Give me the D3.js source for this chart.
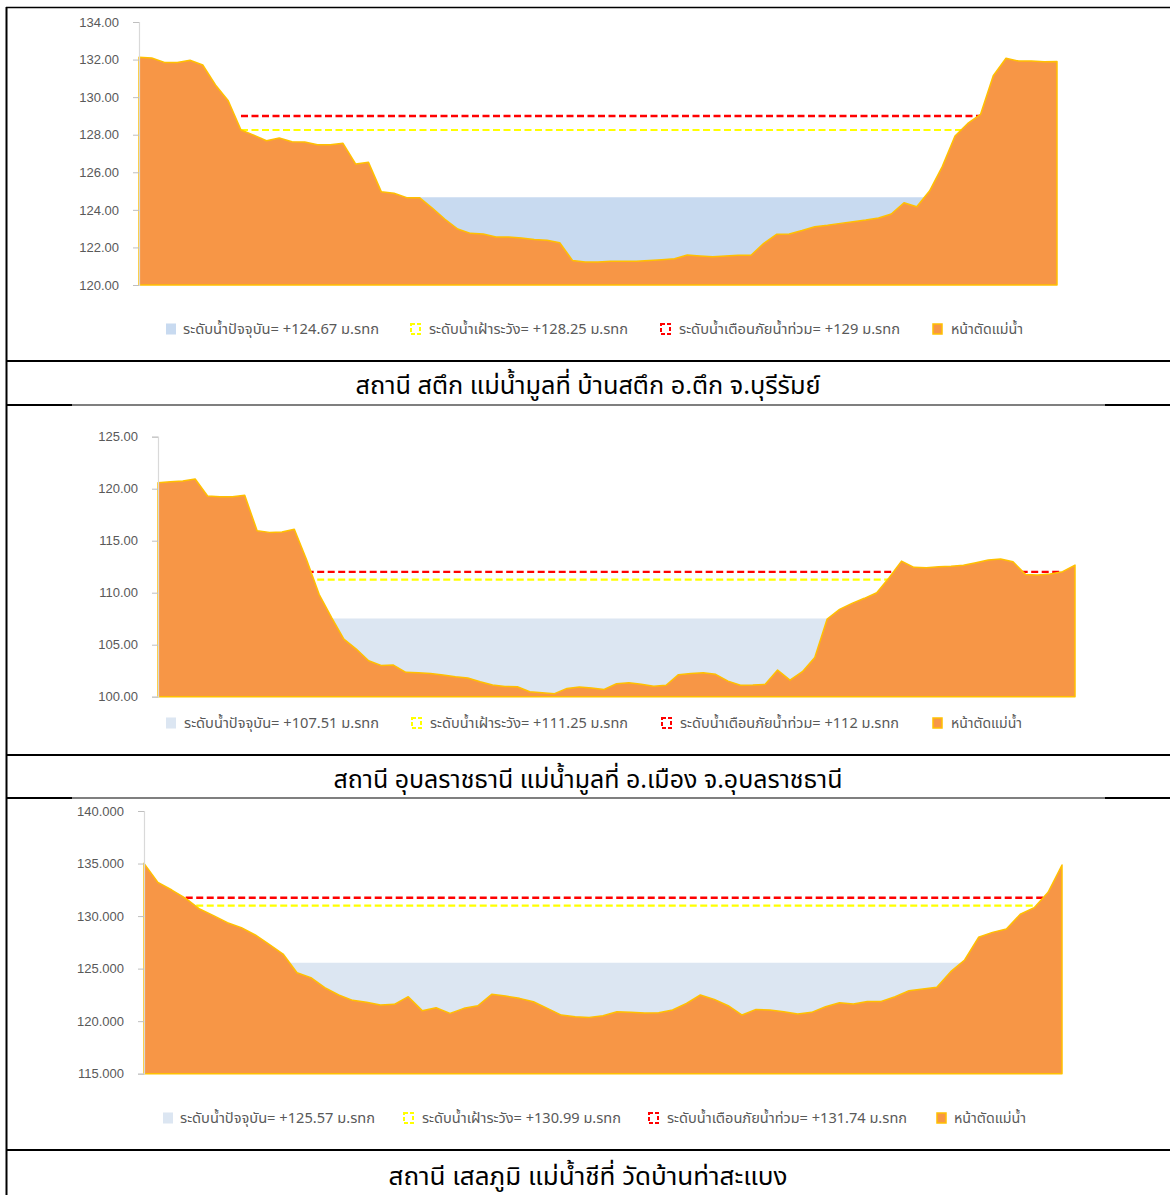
<!DOCTYPE html>
<html><head><meta charset="utf-8">
<script src="https://cdn.jsdelivr.net/npm/d3@7"></script>
<style>
body{margin:0;background:#fff;}
svg{display:block;}
.thai{font-family:"Noto Sans Thai","Noto Sans Thai UI","Loma","Garuda","Norasi","Tlwg Typo","Sarabun","TH Sarabun New",Tahoma,"DejaVu Sans",sans-serif;}
</style></head>
<body>
<svg id="c" width="1170" height="1195"></svg>
<script>
// ---------- DATA ----------
const captions = [
  "สถานี สตึก แม่น้ำมูลที่ บ้านสตึก อ.ตึก จ.บุรีรัมย์",
  "สถานี อุบลราชธานี แม่น้ำมูลที่ อ.เมือง จ.อุบลราชธานี",
  "สถานี เสลภูมิ แม่น้ำชีที่ วัดบ้านท่าสะแบง"
];
const legendNames = ["ระดับน้ำปัจจุบัน", "ระดับน้ำเฝ้าระวัง", "ระดับน้ำเตือนภัยน้ำท่วม", "หน้าตัดแม่น้ำ"];
const unitText = "ม.รทก";

// Station 1 (Satuek)
const s1Ground = [132.12,132.08,131.85,131.85,131.96,131.71,130.65,129.81,128.25,127.98,
  127.68,127.82,127.63,127.61,127.47,127.47,127.54,126.44,126.53,124.97,
  124.88,124.65,124.65,124.10,123.50,122.98,122.75,122.72,122.56,122.56,
  122.50,122.42,122.38,122.25,121.31,121.22,121.22,121.27,121.26,121.26,
  121.30,121.35,121.40,121.60,121.55,121.50,121.55,121.58,121.58,122.22,
  122.70,122.72,122.90,123.10,123.18,123.28,123.37,123.46,123.57,123.78,
  124.38,124.17,125.00,126.30,127.93,128.60,129.08,131.14,132.07,131.92,
  131.92,131.89,131.90];
const s1Levels = {water:124.67, watch:128.25, warn:129};
const s1LineRange = [8, 66];
const s1Ticks = [120,122,124,126,128,130,132,134];

// Station 2 (Ubon Ratchathani)
const s2Ground = [120.58,120.67,120.74,120.93,119.30,119.23,119.23,119.36,115.96,115.80,
  115.83,116.10,113.14,109.84,107.63,105.54,104.58,103.46,103.01,103.04,
  102.34,102.31,102.24,102.08,101.92,101.79,101.44,101.12,100.99,100.96,
  100.48,100.38,100.29,100.80,100.93,100.83,100.70,101.25,101.35,101.19,
  101.00,101.10,102.12,102.24,102.31,102.15,101.50,101.10,101.12,101.19,
  102.56,101.60,102.40,103.78,107.47,108.40,108.97,109.46,110.00,111.44,
  113.04,112.44,112.40,112.50,112.55,112.63,112.88,113.14,113.24,112.98,
  111.76,111.70,111.80,112.02,112.66];
const s2Levels = {water:107.51, watch:111.25, warn:112};
const s2LineRange = [12, 73];
const s2Ticks = [100,105,110,115,120,125];

// Station 3 (Selaphum)
const s3Ground = [135.02,133.21,132.48,131.69,130.67,130.04,129.37,128.90,128.20,127.31,
  126.39,124.61,124.14,123.19,122.49,121.98,121.79,121.54,121.60,122.33,
  121.00,121.28,120.74,121.22,121.47,122.55,122.39,122.17,121.85,121.22,
  120.58,120.43,120.36,120.52,120.90,120.84,120.77,120.81,121.06,121.69,
  122.49,122.07,121.47,120.58,121.12,121.06,120.90,120.68,120.84,121.38,
  121.76,121.63,121.88,121.88,122.33,122.90,123.06,123.22,124.71,125.82,
  127.98,128.45,128.77,130.17,130.80,132.26,134.86];
const s3Levels = {water:125.57, watch:130.99, warn:131.74};
const s3LineRange = [3, 65];
const s3Ticks = [115,120,125,130,135,140];

// ---------- LAYOUT / STYLE ----------
const panels = [
  {ground:s1Ground, lv:s1Levels, range:s1LineRange, ticks:s1Ticks, fmt:".2f",
   x0:139, x1:1057, yTop:22, yBot:285, water:"#C8DAF0",
   legY:329, legSq:[166,410,660,932], legTx:[183,429,679,951], legW:[196,199,221,72], capY:385, capW:465},
  {ground:s2Ground, lv:s2Levels, range:s2LineRange, ticks:s2Ticks, fmt:".2f",
   x0:158, x1:1075, yTop:436.7, yBot:696.7, water:"#DCE6F2",
   legY:723, legSq:[166,411,661,932], legTx:[184,430,680,951], legW:[195,198,219,71], capY:779, capW:509},
  {ground:s3Ground, lv:s3Levels, range:s3LineRange, ticks:s3Ticks, fmt:".3f",
   x0:144, x1:1062, yTop:811, yBot:1073.7, water:"#DCE6F2",
   legY:1118, legSq:[163,403,648,936], legTx:[180,422,667,954], legW:[195,199,240,72], capY:1176, capW:399}
];

const svg = d3.select("#c");

// table lines
const tbl = svg.append("g").attr("stroke","#000");
tbl.append("line").attr("x1",6).attr("x2",1170).attr("y1",7.5).attr("y2",7.5).attr("stroke-width",1.5);
tbl.append("line").attr("x1",6.5).attr("x2",6.5).attr("y1",7).attr("y2",1195).attr("stroke-width",2);
[361,755,1150].forEach(y=>tbl.append("line").attr("x1",6).attr("x2",1170).attr("y1",y).attr("y2",y).attr("stroke-width",2.2));
[405,798].forEach(y=>{
  tbl.append("line").attr("x1",6).attr("x2",1170).attr("y1",y).attr("y2",y).attr("stroke-width",1.2);
  tbl.append("line").attr("x1",6).attr("x2",72).attr("y1",y).attr("y2",y).attr("stroke-width",2);
  tbl.append("line").attr("x1",1105).attr("x2",1170).attr("y1",y).attr("y2",y).attr("stroke-width",2);
});

function fmtLevel(v){ return (Math.round(v)===v) ? String(v) : v.toFixed(2); }

panels.forEach((p,pi)=>{
  const g = svg.append("g");
  const n = p.ground.length;
  const x = d3.scaleLinear().domain([0,n-1]).range([p.x0,p.x1]);
  const y = d3.scaleLinear().domain([p.ticks[0], p.ticks[p.ticks.length-1]]).range([p.yBot,p.yTop]);
  const idx = d3.range(n);

  // water
  g.append("path").datum(idx)
    .attr("d", d3.area().x(i=>x(i)).y0(y(p.ticks[0])).y1(y(p.lv.water)))
    .attr("fill", p.water);

  // dashed lines
  const lr = d3.range(p.range[0], p.range[1]+1);
  [[p.lv.watch,"#FFFF00",2.2],[p.lv.warn,"#FF0000",2.4]].forEach(([v,c,w])=>{
    g.append("path").datum(lr)
      .attr("d", d3.line().x(i=>x(i)).y(()=>y(v)))
      .attr("fill","none").attr("stroke",c).attr("stroke-width",w)
      .attr("stroke-dasharray","7,3.5");
  });

  // ground
  g.append("path").datum(p.ground)
    .attr("d", d3.area().x((d,i)=>x(i)).y0(y(p.ticks[0])).y1(d=>y(d)))
    .attr("fill","#F79646").attr("stroke","#FFC000").attr("stroke-width",1.5)
    .attr("stroke-linejoin","round");

  // axis
  const ax = g.append("g").attr("transform",`translate(${p.x0},0)`)
    .call(d3.axisLeft(y).tickValues(p.ticks).tickFormat(d3.format(p.fmt)).tickSize(6).tickPadding(14));
  ax.select(".domain").attr("stroke","#D9D9D9").attr("stroke-width",1.2);
  ax.selectAll(".tick line").attr("stroke","#BFBFBF");
  ax.selectAll(".tick text").attr("fill","#595959")
    .style("font-family","'Liberation Sans',Arial,sans-serif").style("font-size","13px");

  // legend
  const L = g.append("g").attr("class","thai");
  const sy = p.legY - 5.5;
  L.append("rect").attr("x",p.legSq[0]).attr("y",sy).attr("width",10).attr("height",11).attr("fill",p.water);
  L.append("rect").attr("x",p.legSq[1]+1).attr("y",sy+0.5).attr("width",9).attr("height",10)
    .attr("fill","none").attr("stroke","#FFFF00").attr("stroke-width",2).attr("stroke-dasharray","4,2");
  L.append("rect").attr("x",p.legSq[2]+1).attr("y",sy+0.5).attr("width",9).attr("height",10)
    .attr("fill","none").attr("stroke","#FF0000").attr("stroke-width",2).attr("stroke-dasharray","4,2");
  L.append("rect").attr("x",p.legSq[3]+1).attr("y",sy+0.5).attr("width",9).attr("height",10)
    .attr("fill","#F79646").attr("stroke","#FFC000").attr("stroke-width",1.5);
  const texts = [
    `${legendNames[0]}= +${fmtLevel(p.lv.water)} ${unitText}`,
    `${legendNames[1]}= +${fmtLevel(p.lv.watch)} ${unitText}`,
    `${legendNames[2]}= +${fmtLevel(p.lv.warn)} ${unitText}`,
    legendNames[3]
  ];
  texts.forEach((t,k)=>{
    L.append("text").attr("x",p.legTx[k]).attr("y",p.legY).attr("dy","0.35em")
      .attr("fill","#595959").style("font-size","14px")
      .attr("textLength",p.legW[k]).attr("lengthAdjust","spacingAndGlyphs").text(t);
  });

  // caption
  svg.append("text").attr("class","thai").attr("x",588).attr("y",p.capY).attr("dy","0.35em")
    .attr("text-anchor","middle").attr("fill","#000").style("font-size","25px")
    .attr("textLength",p.capW).attr("lengthAdjust","spacingAndGlyphs").text(captions[pi]);
});
</script>
</body></html>
